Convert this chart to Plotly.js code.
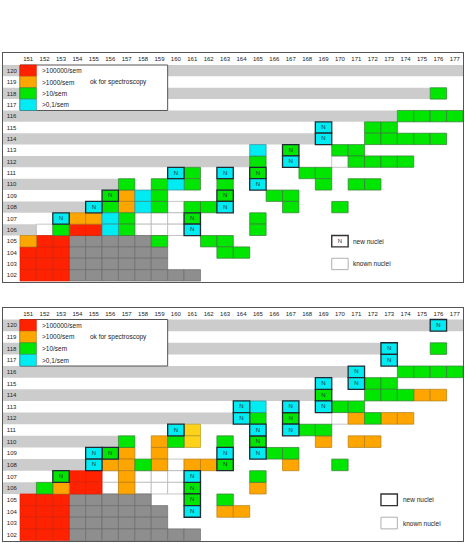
<!DOCTYPE html>
<html>
<head>
<meta charset="utf-8">
<script src="https://cdn.plot.ly/plotly-3.0.1.min.js"></script>
<style>html,body{margin:0;padding:0;background:#fff}</style>
</head>
<body>
<div id="chart" style="width:470px;height:543px"></div>
<script>
// Neutron numbers (columns) and element numbers (rows) of the chart section
const columns = [151,152,153,154,155,156,157,158,159,160,161,162,163,164,165,166,167,168,169,170,171,172,173,174,175,176,177];
const rows = [120,119,118,117,116,115,114,113,112,111,110,109,108,107,106,105,104,103,102];

// One string per row (120 -> 102), one character per column (151 -> 177).
// r >100000/sem, o >1000/sem, y intermediate, g >10/sem, c >0,1/sem,
// d region already covered, k known nucleus, upper case = new nucleus (N)
const upperGrid = [
  "...........................",
  "...........................",
  ".........................g.",
  "...........................",
  ".......................gggg",
  "..................C..gg....",
  "..................C..ggggg.",
  "..............c.G..gg......",
  "..............g.C..kgggg...",
  ".........Cg.C.G..gg........",
  "......g.gcg.g.C...g.gg.....",
  ".....Gocg...G..gg..........",
  "....CgocgkggC...g..g.......",
  "..CoocgkkkG...g............",
  ".kgrrcgkkkC...g............",
  "orrdddddg..gg..............",
  "rrrdddddd...gg.............",
  "rrrdddddd..................",
  "rrrdddddddd................"
];
const lowerGrid = [
  ".........................C.",
  "...........................",
  "......................C..g.",
  "......................C....",
  "....................C..gggg",
  "..................C.Cgg....",
  "..................G..gggoo.",
  ".............Cc.C.Cgg......",
  ".............Cg.G..kogoo...",
  ".........Cy...C.Cgg........",
  "......g.ogy.g.G...o.oo.....",
  "....CGo.o...C.Cgg..........",
  "....CoogokooG...o..g.......",
  "..GrrkokkkC...g............",
  ".gorrkokkkG...o............",
  "rrrddddd..G.g..............",
  "rrrdddddd.C.oo.............",
  "rrrdddddd..................",
  "rrrdddddddd................"
];

// Shaded even-Z rows and the last column each shading reaches
const bandRows = [120,118,116,114,112,110,108,106];
const upperBandEnd = [177,175,173,168,164,156,154,151];
const lowerBandEnd = [177,172,170,168,163,156,154,151];

// Rate legend
const legendRows = [120,119,118,117];
const legendCodes = ['r','o','g','c'];
const legendLabels = ['>100000/sem','>1000/sem','>10/sem','>0,1/sem'];
const legendNote = 'ok for spectroscopy';
const legendCols = [151,159];

// Key for new / known nuclei
const keyRows = [105,103];
const keyLabels = ['new nuclei','known nuclei'];
const upperKeyCol = 170;
const lowerKeyCol = 173;

const FILL = {r:'#ff2200', o:'#ffa500', y:'#ffd21a', g:'#00e600', c:'#00ecf2', d:'#8e8e8e', k:'#ffffff'};
const EDGE = {r:'#d81c00', o:'#b27c14', y:'#b59a22', g:'#3a7a3a', c:'#3a8890', d:'#6c6c6c', k:'#b8b8b8'};
const FONT = 'Liberation Sans, Arial, sans-serif';

function cellBars(cols, rws, fill, edge, lw, xa, ya) {
  return {
    type:'bar', orientation:'v', x:cols, y:rws.map(()=>1), base:rws.map(r=>r-0.5),
    width:cols.map(()=>1), xaxis:xa, yaxis:ya, hoverinfo:'skip', showlegend:false,
    marker:{color:fill, line:{color:edge, width:lw}}
  };
}

function panel(grid, bandEnd, keyCol, xa, ya, xRange, showKeyN) {
  const traces = [];
  // shaded rows
  traces.push({
    type:'bar', orientation:'h', y:bandRows, base:bandRows.map(()=>xRange[0]),
    x:bandEnd.map(e=>e+0.5-xRange[0]), width:bandRows.map(()=>1),
    xaxis:xa, yaxis:ya, hoverinfo:'skip', showlegend:false,
    marker:{color:'#cccccc', line:{width:0}}
  });
  // rate legend frame and swatches
  traces.push({
    type:'bar', orientation:'v', x:[(legendCols[0]+legendCols[1])/2], y:[legendRows.length],
    base:[Math.min(...legendRows)-0.5], width:[legendCols[1]-legendCols[0]+1],
    xaxis:xa, yaxis:ya, hoverinfo:'skip', showlegend:false,
    marker:{color:'#ffffff', line:{color:'#555555', width:1}}
  });
  legendCodes.forEach((code,i)=>{
    traces.push(cellBars([legendCols[0]], [legendRows[i]], FILL[code], EDGE[code], 0.6, xa, ya));
  });
  // nuclei cells
  const order = ['k','d','r','o','y','g','c'];
  const groups = {};
  const newCells = {g:{x:[],y:[]}, c:{x:[],y:[]}};
  grid.forEach((line, ri)=>{
    [...line].forEach((ch, ci)=>{
      if (ch === '.') return;
      const low = ch.toLowerCase();
      if (ch !== low) { newCells[low].x.push(columns[ci]); newCells[low].y.push(rows[ri]); return; }
      (groups[low] = groups[low] || {x:[],y:[]});
      groups[low].x.push(columns[ci]); groups[low].y.push(rows[ri]);
    });
  });
  order.forEach(code=>{
    if (groups[code]) traces.push(cellBars(groups[code].x, groups[code].y, FILL[code], EDGE[code], code==='k'?0.8:0.7, xa, ya));
  });
  ['g','c'].forEach(code=>{
    const n = newCells[code];
    if (n.x.length) traces.push(cellBars(n.x, n.y, FILL[code], '#1f2a33', 1.3, xa, ya));
  });
  const allNx = newCells.g.x.concat(newCells.c.x);
  const allNy = newCells.g.y.concat(newCells.c.y);
  // key boxes
  traces.push(cellBars([keyCol], [keyRows[0]], '#ffffff', '#333333', 1.4, xa, ya));
  traces.push(cellBars([keyCol], [keyRows[1]], '#ffffff', '#b0b0b0', 1, xa, ya));
  if (showKeyN) { allNx.push(keyCol); allNy.push(keyRows[0]); }
  traces.push({
    type:'scatter', mode:'text', x:allNx, y:allNy, text:allNx.map(()=>'N'),
    textposition:'middle center', textfont:{family:FONT, size:6, color:'#1b2b3a'},
    xaxis:xa, yaxis:ya, hoverinfo:'skip', showlegend:false, cliponaxis:false
  });
  return traces;
}

function panelNotes(xa, ya, keyCol) {
  const notes = [];
  legendLabels.forEach((t,i)=>{
    notes.push({xref:xa, yref:ya, x:legendCols[0]+0.72, y:legendRows[i], text:t, showarrow:false,
      xanchor:'left', yanchor:'middle', font:{family:FONT, size:6.5, color:'#222'}});
  });
  notes.push({xref:xa, yref:ya, x:154.65, y:legendRows[1], text:legendNote, showarrow:false,
    xanchor:'left', yanchor:'middle', font:{family:FONT, size:6.5, color:'#222'}});
  keyLabels.forEach((t,i)=>{
    notes.push({xref:xa, yref:ya, x:keyCol+0.7, y:keyRows[i], text:t, showarrow:false,
      xanchor:'left', yanchor:'middle', font:{family:FONT, size:6.5, color:'#222'}});
  });
  return notes;
}

const xRange = [149.464, 177.5];
const xDomain = [3/470, 463/470];

function xAxis(anchor) {
  return {domain:xDomain, range:xRange, side:'top', anchor:anchor,
    tickvals:columns, ticktext:columns.map(String), ticks:'', ticklabelposition:'inside',
    ticklabelstandoff:2, tickfont:{family:FONT, size:6, color:'#222'},
    showgrid:false, zeroline:false, showline:true, mirror:true, linecolor:'#555', linewidth:1, fixedrange:true};
}
function yAxis(anchor, domain, range) {
  return {domain:domain, range:range, anchor:anchor,
    tickvals:rows, ticktext:rows.map(String), ticks:'', ticklabelposition:'inside',
    ticklabelstandoff:2, tickfont:{family:FONT, size:6, color:'#222'},
    showgrid:false, zeroline:false, showline:true, mirror:true, linecolor:'#555', linewidth:1, fixedrange:true};
}

const data = panel(upperGrid, upperBandEnd, upperKeyCol, 'x', 'y', xRange, true)
  .concat(panel(lowerGrid, lowerBandEnd, lowerKeyCol, 'x2', 'y2', xRange, false));

const layout = {
  width:470, height:543, margin:{l:0, r:0, t:0, b:0},
  paper_bgcolor:'#ffffff', plot_bgcolor:'#ffffff',
  barmode:'overlay', showlegend:false,
  xaxis:xAxis('y'),
  yaxis:yAxis('x', [1-282/543, 1-53/543], [101.412, 121.556]),
  xaxis2:xAxis('y2'),
  yaxis2:yAxis('x2', [1-541/543, 1-308/543], [101.457, 121.489]),
  annotations: panelNotes('x','y',upperKeyCol).concat(panelNotes('x2','y2',lowerKeyCol))
};

Plotly.newPlot('chart', data, layout, {displayModeBar:false, staticPlot:true});
</script>
</body>
</html>
